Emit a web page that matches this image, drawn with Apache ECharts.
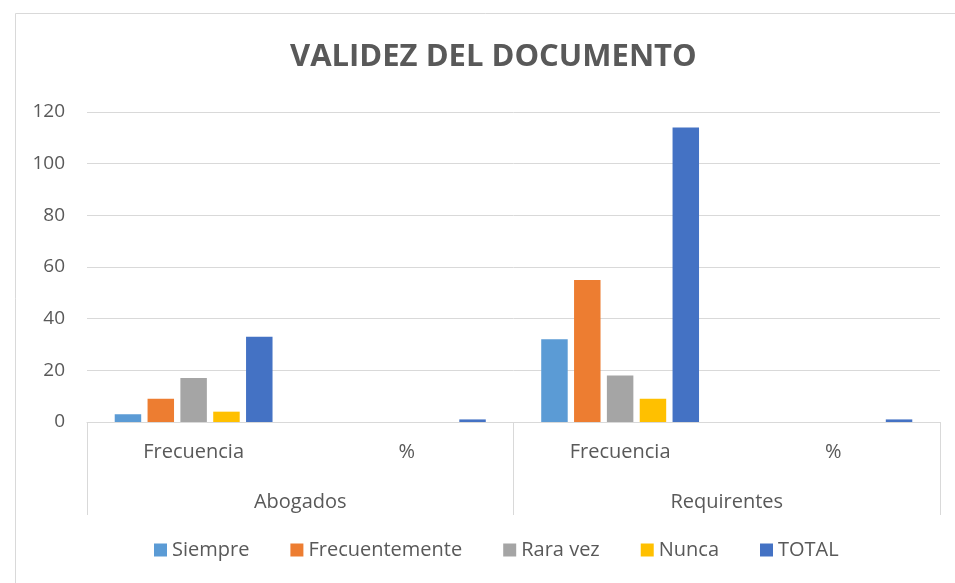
<!DOCTYPE html>
<html>
<head>
<meta charset="utf-8">
<script src="https://cdn.jsdelivr.net/npm/echarts@6/dist/echarts.min.js"></script>
<style>
  html, body { margin: 0; padding: 0; background: #fff; }
  #main { width: 955px; height: 583px; }
</style>
</head>
<body>
<div id="main"></div>
<script type="text/javascript">
	// datos del gráfico
	var subCategorias = ['Frecuencia', '%', 'Frecuencia', '%'];
	var grupos = ['Abogados', 'Requirentes'];
	var nombresSeries = ['Siempre', 'Frecuentemente', 'Rara vez', 'Nunca', 'TOTAL'];
	var colores = ['#5b9bd5', '#ed7d31', '#a5a5a5', '#ffc000', '#4472c4'];
	var siempre = [3, 0, 32, 0];
	var frecuentemente = [9, 0, 55, 0];
	var raraVez = [17, 0, 18, 0];
	var nunca = [4, 0, 9, 0];
	var total = [33, 1, 114, 1];
	var valores = [siempre, frecuentemente, raraVez, nunca, total];

	var fuente = 'Open Sans';
	var chart = echarts.init(document.getElementById('main'));

	var series = nombresSeries.map(function (n, i) {
		return {
			name: n,
			type: 'bar',
			xAxisIndex: 0,
			data: valores[i],
			barGap: '24%',
			barCategoryGap: '26%',
			itemStyle: { color: colores[i] }
		};
	});

	var option = {
		animation: false,
		title: {
			text: 'VALIDEZ DEL DOCUMENTO',
			left: 285,
			top: 37,
			textStyle: { fontFamily: fuente, fontSize: 31, fontWeight: 'bold', color: '#595959' }
		},
		graphic: [{
			type: 'rect',
			shape: { x: 15.5, y: 13.5, width: 960, height: 600 },
			style: { fill: 'none', stroke: '#d9d9d9', lineWidth: 1 },
			silent: true
		}],
		legend: {
			data: nombresSeries,
			bottom: 18,
			left: 149,
			itemWidth: 13,
			itemHeight: 13,
			itemGap: 41,
			icon: 'rect',
			textStyle: { fontFamily: fuente, fontSize: 20, color: '#595959' }
		},
		grid: { left: 87, right: 15, top: 112, bottom: 161 },
		xAxis: [{
			type: 'category',
			data: subCategorias,
			axisLine: { lineStyle: { color: '#d9d9d9' } },
			axisTick: { show: false },
			axisLabel: { fontFamily: fuente, fontSize: 20, color: '#595959', margin: 20 }
		}, {
			type: 'category',
			position: 'bottom',
			data: grupos,
			axisLine: { show: false },
			axisTick: { show: true, length: 93, lineStyle: { color: '#d9d9d9' } },
			axisLabel: { fontFamily: fuente, fontSize: 20, color: '#595959', margin: 70 },
			splitLine: { show: false }
		}],
		yAxis: {
			type: 'value',
			min: 0,
			max: 120,
			interval: 20,
			axisLine: { show: false },
			axisTick: { show: false },
			axisLabel: { fontFamily: fuente, fontSize: 19, color: '#595959', margin: 22 },
			splitLine: { lineStyle: { color: '#d9d9d9' } }
		},
		series: series
	};
	chart.setOption(option);
</script>
</body>
</html>
